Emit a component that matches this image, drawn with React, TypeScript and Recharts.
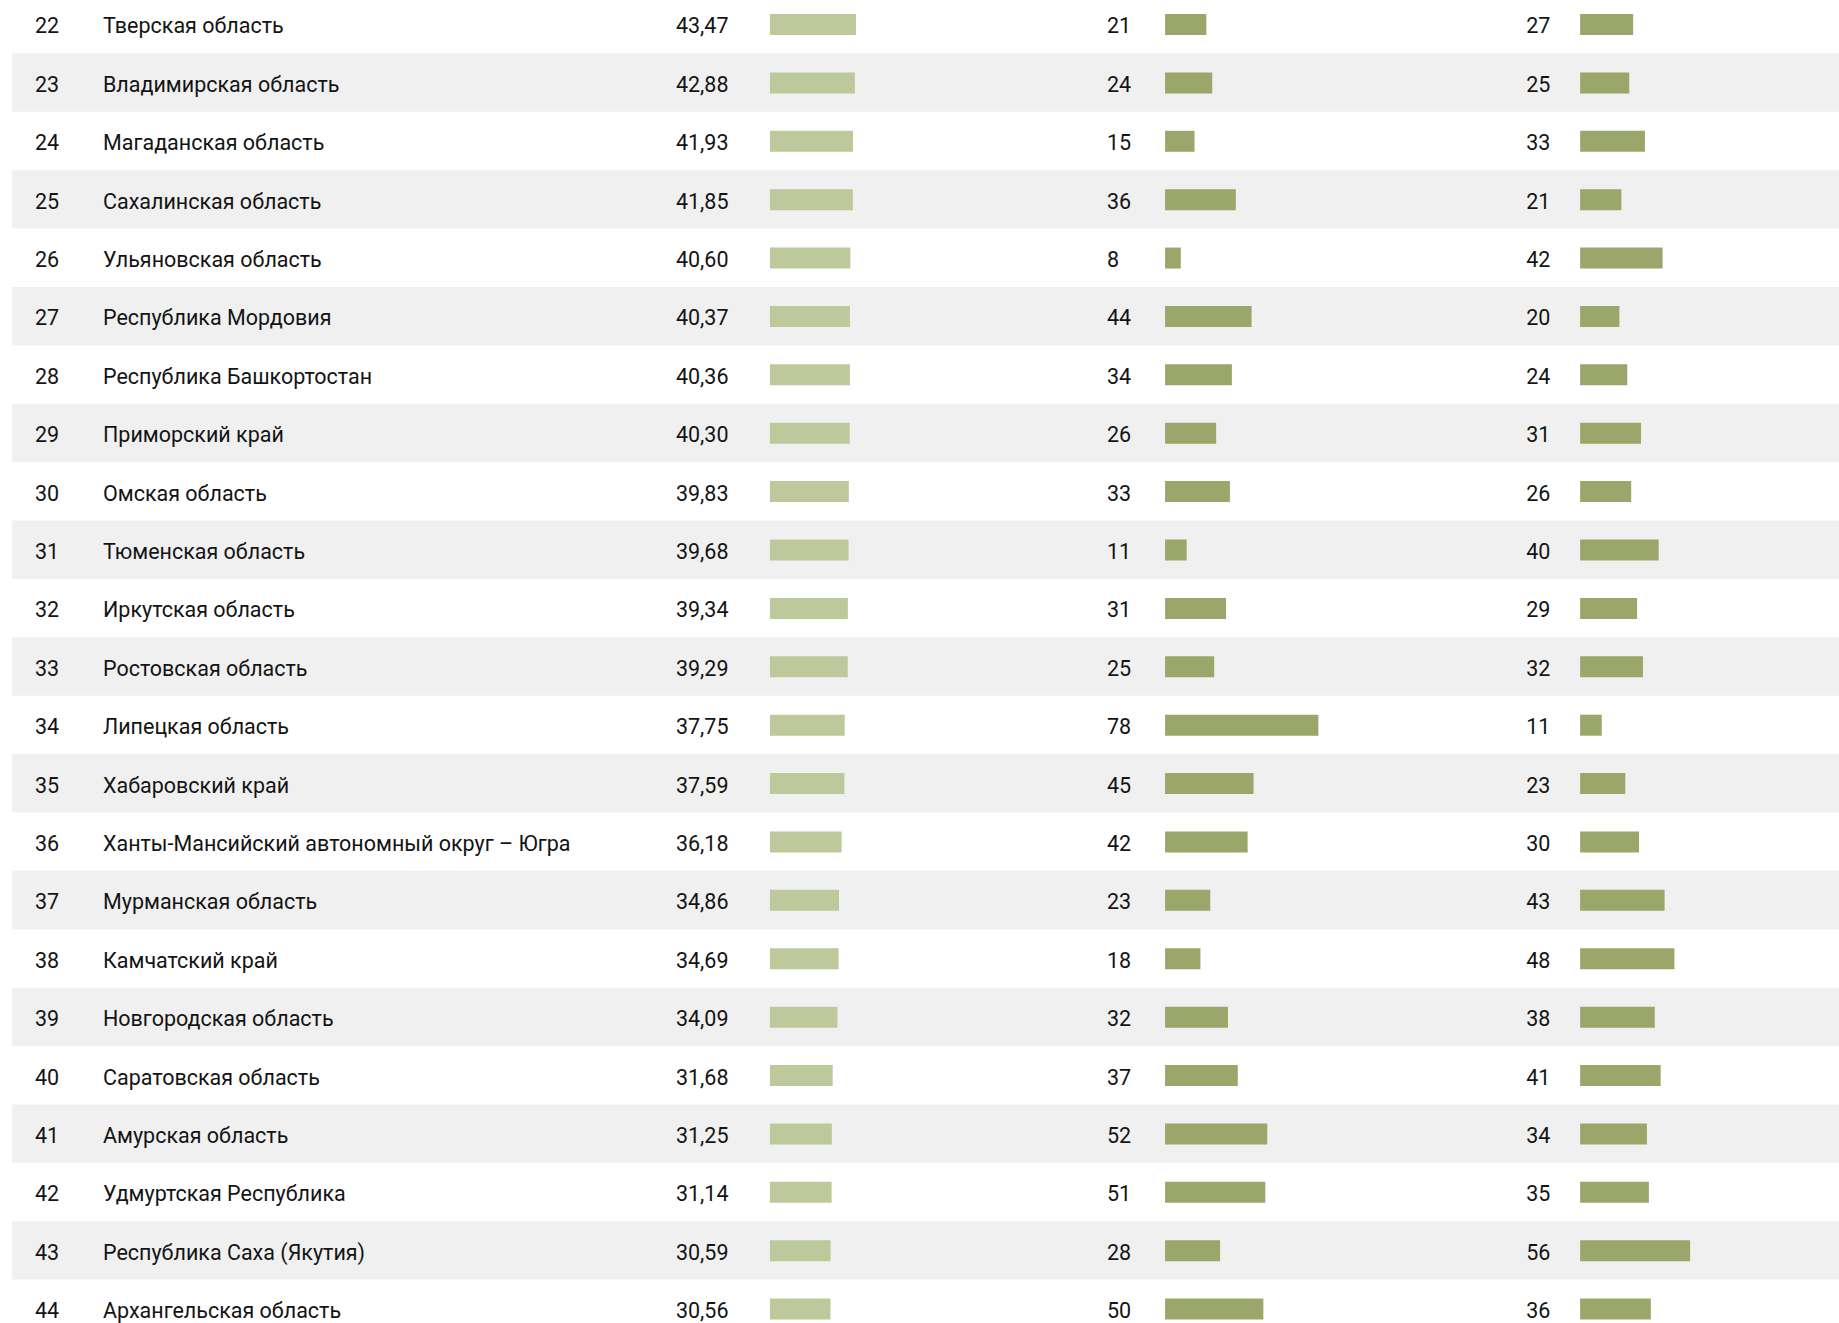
import { BarChart, Bar, XAxis, YAxis, ReferenceArea, LabelList } from "recharts";

const ranks = [22, 23, 24, 25, 26, 27, 28, 29, 30, 31, 32, 33, 34, 35, 36, 37, 38, 39, 40, 41, 42, 43, 44];

const regions = [
  "Тверская область",
  "Владимирская область",
  "Магаданская область",
  "Сахалинская область",
  "Ульяновская область",
  "Республика Мордовия",
  "Республика Башкортостан",
  "Приморский край",
  "Омская область",
  "Тюменская область",
  "Иркутская область",
  "Ростовская область",
  "Липецкая область",
  "Хабаровский край",
  "Ханты-Мансийский автономный округ – Югра",
  "Мурманская область",
  "Камчатский край",
  "Новгородская область",
  "Саратовская область",
  "Амурская область",
  "Удмуртская Республика",
  "Республика Саха (Якутия)",
  "Архангельская область",
];

const index = [
  43.47, 42.88, 41.93, 41.85, 40.6, 40.37, 40.36, 40.3, 39.83, 39.68, 39.34, 39.29,
  37.75, 37.59, 36.18, 34.86, 34.69, 34.09, 31.68, 31.25, 31.14, 30.59, 30.56,
];

const second = [21, 24, 15, 36, 8, 44, 34, 26, 33, 11, 31, 25, 78, 45, 42, 23, 18, 32, 37, 52, 51, 28, 50];

const third = [27, 25, 33, 21, 42, 20, 24, 31, 26, 40, 29, 32, 11, 23, 30, 43, 48, 38, 41, 34, 35, 56, 36];

const data = ranks.map((r, i) => ({
  rank: r,
  name: regions[i],
  index: index[i],
  second: second[i],
  third: third[i],
}));

const ROW_H = 58.39;
const FONT = "Roboto, 'Noto Sans', sans-serif";
const FONT_SIZE = 21.5;
const TEXT = "#141414";
const BASE = 9; // baseline offset from the bar's centre line

// text placed at a fixed column, vertically centred on the bar row
const columnText = (colX: number) => (props: any) => {
  const { y, height, value } = props;
  return (
    <text x={colX} y={y + height / 2 + BASE} fontFamily={FONT} fontSize={FONT_SIZE} fill={TEXT}>
      {value}
    </text>
  );
};

const valueLabel = (shift: number, comma: boolean) => (props: any) => {
  const { x, y, height, value } = props;
  const txt = comma ? Number(value).toFixed(2).replace(".", ",") : String(value);
  return (
    <text x={x - shift} y={y + height / 2 + BASE} fontFamily={FONT} fontSize={FONT_SIZE} fill={TEXT}>
      {txt}
    </text>
  );
};

export default function App() {
  return (
    <div
      style={{
        position: "absolute",
        left: 0,
        top: 0,
        width: 1839,
        height: 1323,
        overflow: "hidden",
        background: "#fff",
      }}
    >
      <div style={{ position: "absolute", left: 0, top: -4.7 }}>
        <BarChart
          width={1839}
          height={ROW_H * ranks.length}
          data={data}
          layout="vertical"
          margin={{ top: 0, right: 0, bottom: 0, left: 12 }}
        >
          {ranks
            .filter((r) => r % 2 === 1)
            .map((r) => (
              <ReferenceArea
                key={r}
                xAxisId="a"
                yAxisId="a"
                y1={r}
                y2={r}
                fill="#f0f0f0"
                fillOpacity={1}
                stroke="none"
              />
            ))}
          <XAxis xAxisId="a" type="number" domain={[-382.8, 539.9]} allowDataOverflow hide />
          <XAxis xAxisId="b" type="number" domain={[-586.5, 342.8]} allowDataOverflow hide />
          <XAxis xAxisId="c" type="number" domain={[-798.4, 131.8]} allowDataOverflow hide />
          <YAxis yAxisId="a" type="category" dataKey="rank" hide />
          <YAxis yAxisId="b" type="category" dataKey="rank" hide />
          <YAxis yAxisId="c" type="category" dataKey="rank" hide />
          <Bar xAxisId="a" yAxisId="a" dataKey="index" fill="#bdc89b" barSize={21} isAnimationActive={false}>
            <LabelList dataKey="rank" content={columnText(35)} />
            <LabelList dataKey="name" content={columnText(103)} />
            <LabelList dataKey="index" content={valueLabel(94, true)} />
          </Bar>
          <Bar xAxisId="b" yAxisId="b" dataKey="second" fill="#9ba66b" barSize={21} isAnimationActive={false}>
            <LabelList dataKey="second" content={valueLabel(58, false)} />
          </Bar>
          <Bar xAxisId="c" yAxisId="c" dataKey="third" fill="#9ba66b" barSize={21} isAnimationActive={false}>
            <LabelList dataKey="third" content={valueLabel(54, false)} />
          </Bar>
        </BarChart>
      </div>
    </div>
  );
}
